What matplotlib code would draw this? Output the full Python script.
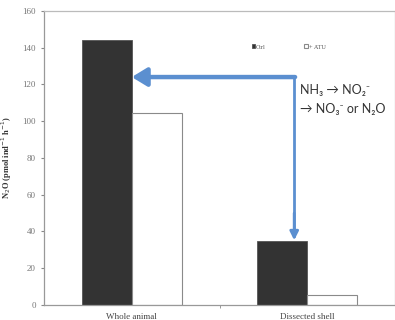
import matplotlib
matplotlib.use("Agg")
import matplotlib.pyplot as plt
import numpy as np

categories = ["Whole animal", "Dissected shell"]
ctrl = [144, 34.8]
atu = [104.5, 5.4]
series_names = ["Ctrl", "+ ATU"]

blue = "#5b8fd0"
serif = "Liberation Serif"

fig = plt.figure(figsize=(3.95, 3.2), dpi=100)
ax = fig.add_axes([0.1114, 0.047, 0.889, 0.919])

x = np.arange(len(categories))
w = 0.285
ax.bar(x - w / 2, ctrl, w, color="#333333", edgecolor="#555555", linewidth=0.6, label=series_names[0])
ax.bar(x + w / 2, atu, w, color="white", edgecolor="#8a8a8a", linewidth=0.8, label=series_names[1])

ax.set_xlim(-0.5, 1.5)
ax.set_ylim(0, 160)
ax.set_yticks(np.arange(0, 161, 20))
ax.set_xticks([0.5], minor=True)
ax.set_xticks(x)
ax.set_xticklabels(categories, fontfamily=serif, fontsize=6.5, color="#444444")
ax.tick_params(axis="x", which="major", length=0, pad=6)
ax.tick_params(axis="x", which="minor", length=2, color="#888888", direction="out")
ax.tick_params(axis="y", labelsize=6.5, labelcolor="#777777", length=2.5, color="#888888")
for lbl in ax.get_yticklabels():
    lbl.set_fontfamily(serif)

for s in ax.spines.values():
    s.set_color("#bbbbbb")
    s.set_linewidth(0.9)
ax.spines["left"].set_color("#999999")
ax.spines["bottom"].set_color("#999999")

ax.set_ylabel(r"N$_2$O (pmol ind$^{-1}$ h$^{-1}$)", fontfamily=serif, fontsize=6,
              fontweight="bold", color="#333333", labelpad=6)

leg = ax.legend(loc="upper left", bbox_to_anchor=(0.575, 0.905), ncol=2, frameon=False,
                prop={"family": serif, "size": 4.5}, handlelength=0.6, handleheight=0.6,
                handletextpad=0.1, columnspacing=6.2)
for t in leg.get_texts():
    t.set_color("#555555")

# blue arrows
corner_x, corner_y = 0.925, 124
ax.plot([corner_x, corner_x], [corner_y + 0.9, 37], color=blue, lw=2.0, solid_capstyle="butt")
ax.annotate("", xy=(0.0, corner_y), xytext=(corner_x + 0.005, corner_y),
            arrowprops=dict(arrowstyle="-|>,head_length=0.9,head_width=0.55", color=blue, lw=3.2,
                            shrinkA=0, shrinkB=0))
ax.annotate("", xy=(corner_x, 35.2), xytext=(corner_x, 50),
            arrowprops=dict(arrowstyle="-|>,head_length=0.5,head_width=0.25", color=blue, lw=2.0,
                            shrinkA=0, shrinkB=0))

txt_kw = dict(family=["Lato", "DejaVu Sans"], fontsize=9, color="#333333", va="center", ha="left")
ax.text(0.96, 117, "NH\u2083 \u2192 NO\u2082\u207b", **txt_kw)
ax.text(0.96, 106.5, "\u2192 NO\u2083\u207b or N\u2082O", **txt_kw)

fig.savefig("out.png", dpi=100)
